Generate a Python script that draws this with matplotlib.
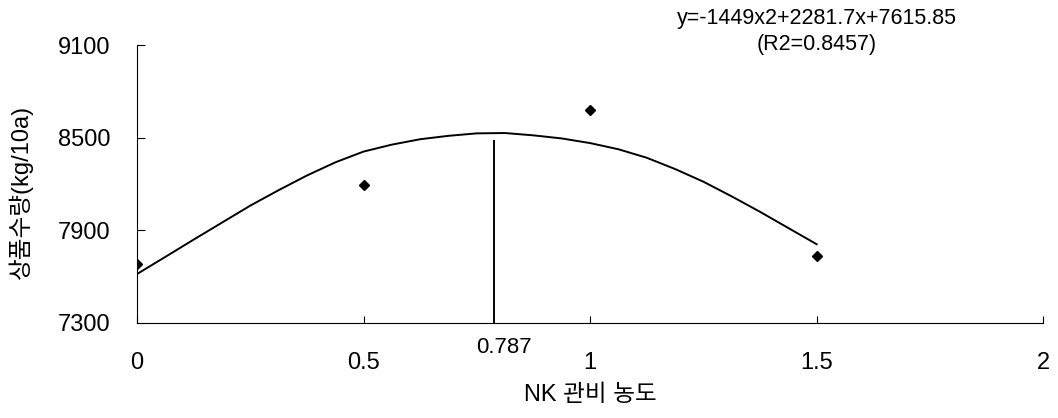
import matplotlib.pyplot as plt

plt.rcParams['font.family'] = ['Liberation Sans', 'Noto Sans CJK KR', 'DejaVu Sans']

# observed yields
obs_x = [0, 0.5, 1, 1.5]
obs_y = [7682, 8194, 8680, 7734]

# fitted curve
fit_x = [0, 0.0625, 0.125, 0.1875, 0.25, 0.3125, 0.375, 0.4375, 0.5, 0.5625,
         0.625, 0.6875, 0.75, 0.8125, 0.875, 0.9375, 1.0, 1.0625, 1.125,
         1.1875, 1.25, 1.3125, 1.375, 1.4375, 1.5]
fit_y = [7617, 7728, 7840, 7950, 8060, 8160, 8255, 8340, 8410, 8455,
         8490, 8512, 8528, 8530, 8515, 8495, 8465, 8425, 8370,
         8297, 8215, 8120, 8020, 7915, 7810]

opt_x = 0.787
opt_top = 8485

x_ticks = [0, 0.5, 1, 1.5, 2]
x_labels = ['0', '0.5', '1', '1.5', '2']
y_ticks = [7300, 7900, 8500, 9100]

fig = plt.figure(figsize=(10.58, 4.18), dpi=100)
ax = fig.add_axes([0.1295, 0.2273, 0.8565, 0.6650])

ax.plot(fit_x, fit_y, color='black', lw=1.4)
ax.plot(obs_x, obs_y, 'D', color='black', ms=5.5)
ax.vlines(opt_x, 7300, opt_top, color='black', lw=1.4)

ax.set_xlim(0, 2)
ax.set_ylim(7300, 9100)
ax.set_xticks(x_ticks)
ax.set_xticklabels(x_labels)
ax.set_yticks(y_ticks)
ax.tick_params(axis='x', direction='in', length=5, pad=21, labelsize=17)
ax.tick_params(axis='y', direction='in', length=6, pad=19, labelsize=17)
ax.spines['top'].set_visible(False)
ax.spines['right'].set_visible(False)

ax.text(0.81, 7209, '0.787', ha='center', va='top', fontsize=16)

fig.text(590 / 1058, 1 - 395 / 418, 'NK 관비 농도', ha='center', va='center', fontsize=17)
fig.text(21 / 1058, 1 - 192 / 418, '상품수량(kg/10a)', ha='center', va='center',
         rotation=90, fontsize=17)

fig.text(0.772, 0.955, 'y=-1449x2+2281.7x+7615.85', ha='center', va='center', fontsize=15.5)
fig.text(0.772, 0.893, '(R2=0.8457)', ha='center', va='center', fontsize=15.5)

fig.savefig('out.png', dpi=100)
